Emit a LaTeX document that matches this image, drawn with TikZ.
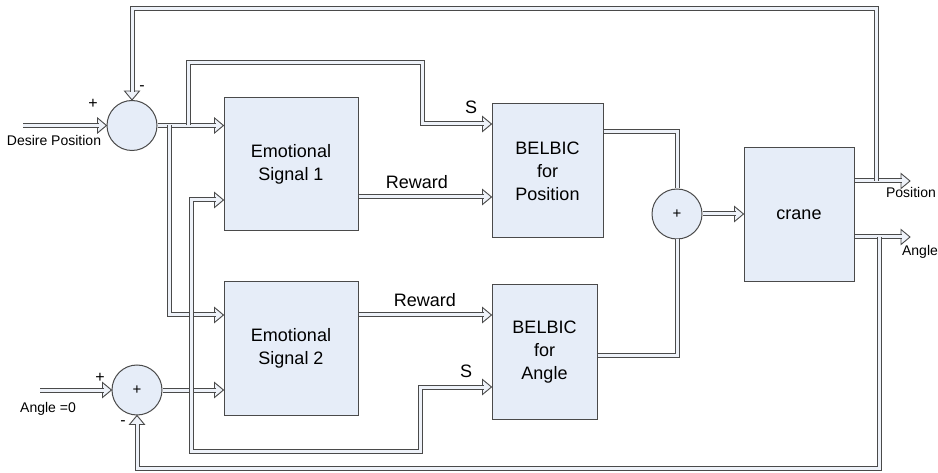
\documentclass[tikz,border=0pt]{standalone}
\usepackage{fontspec}
\setmainfont{Liberation Sans}
\usetikzlibrary{decorations.markings}
\definecolor{boxfill}{HTML}{E6EDF8}
\definecolor{edge}{HTML}{4A4A4A}
\definecolor{pipein}{HTML}{EEF2F9}
\begin{document}
\begin{tikzpicture}[x=1pt,y=-1pt,
  blk/.style={draw=edge, fill=boxfill, line width=1pt, inner sep=0pt, align=center,
    font=\fontsize{18}{23}\selectfont},
  sumnode/.style={circle, draw=edge, fill=boxfill, line width=1pt, minimum size=50pt,
    inner sep=0pt, font=\fontsize{15}{15}\selectfont},
  pipe/.style={draw=edge, line width=1pt, double=pipein, double distance=3pt},
  arr/.style={shorten >=8pt,
    preaction={decorate, decoration={markings, mark=at position 1 with
      {\draw[draw=edge, fill=pipein, line width=0.9pt, line join=miter]
        (0pt,0pt) -- (-9pt,7.5pt) -- (-9pt,-7.5pt) -- cycle;}}}},
  lbl/.style={font=\fontsize{18}{22}\selectfont, inner sep=0pt},
  small/.style={font=\fontsize{14}{16}\selectfont, inner sep=0pt},
  sign/.style={font=\fontsize{16}{16}\selectfont, inner sep=0pt}]
\useasboundingbox (0,0) rectangle (938,473);

% blocks
\node[blk, minimum width=134pt, minimum height=133pt] (es1) at (291,164.5) {Emotional\\Signal 1};
\node[blk, minimum width=134pt, minimum height=133pt] (es2) at (291,348.5) {Emotional\\Signal 2};
\node[blk, minimum width=111pt, minimum height=134pt] (bp) at (547.5,171) {BELBIC\\for\\Position};
\node[blk, minimum width=105pt, minimum height=134pt] (ba) at (544.5,352) {BELBIC\\for\\Angle};
\node[blk, minimum width=110pt, minimum height=134pt] (crane) at (799,215) {crane};

% summing junctions
\node[sumnode] (s1) at (132,125.5) {};
\node[sumnode] (s2) at (137,390) {+};
\node[sumnode] (s3) at (677,214) {+};

% coordinates
\coordinate (dp) at (23,125.5);
\coordinate (an) at (40,390);
\coordinate (po) at (910,181);
\coordinate (ao) at (910,237);
\coordinate (jA) at (188,125.5);
\coordinate (jC) at (169,125.5);
\coordinate (jD) at (191,390);
\coordinate (fbT) at (876,181);
\coordinate (fbB) at (879,237);

% inputs
\draw[pipe,arr] (dp) -- (s1.west);
\draw[pipe,arr] (an) -- (s2.west);

% error signals
\draw[pipe,arr] (s1.east) -- (es1.west |- s1.east);
\draw[pipe,arr] (jA) -- (188,63) -- (422,63) -- (422,124) -- (bp.west |- 0,124);
\draw[pipe,arr] (jC) -- (169,315) -- (es2.west |- 0,315);
\draw[pipe,arr] (s2.east) -- (es2.west |- s2.east);
\draw[pipe,arr] (jD) -- (191,200) -- (es1.west |- 0,200);
\draw[pipe,arr] (jD) -- (191,451) -- (420,451) -- (420,387) -- (ba.west |- 0,387);

% rewards
\draw[pipe,arr] (es1.east |- 0,197) -- (bp.west |- 0,197);
\draw[pipe,arr] (es2.east |- 0,315) -- (ba.west |- 0,315);

% controller outputs
\draw[pipe] (bp.east |- 0,132) -| (s3.north);
\draw[pipe] (ba.east |- 0,356) -| (s3.south);
\draw[pipe,arr] (s3.east) -- (crane.west |- s3.east);

% plant outputs
\draw[pipe,arr] (crane.east |- po) -- (po);
\draw[pipe,arr] (crane.east |- ao) -- (ao);

% feedback
\draw[pipe,arr] (fbT) -- (876,9) -| (s1.north);
\draw[pipe,arr] (fbB) -- (879,468) -| (s2.south);

% labels
\node[small] (ldp) at (54,140) {Desire Position};
\node[small] (lan) at (48,409) {Angle =0};
\node[sign] (p1) at (93,104) {+};
\node[sign] (m1) at (142,88) {-};
\node[sign] (p2) at (100,378) {+};
\node[sign] (m2) at (123,423) {-};
\node[lbl] (lS1) at (471,107) {S};
\node[lbl] (lS2) at (466,371) {S};
\node[lbl] (lR1) at (417,182) {Reward};
\node[lbl] (lR2) at (425,300) {Reward};
\node[small] (lpo) at (911,192) {Position};
\node[small] (lao) at (920,252) {Angle};
\end{tikzpicture}
\end{document}
